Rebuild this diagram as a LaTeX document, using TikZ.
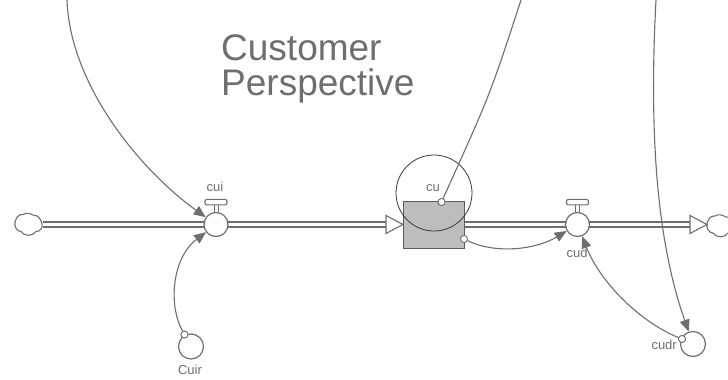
\documentclass[tikz,border=0pt]{standalone}
\usepackage{fontspec}
\setmainfont{Liberation Sans}
\usetikzlibrary{arrows.meta}
\definecolor{ink}{HTML}{6E6E6E}
\definecolor{stockfill}{HTML}{BDBDBD}
\definecolor{ring}{HTML}{3A3A3A}

\begin{document}
\begin{tikzpicture}[x=1pt,y=-1pt,
  pipe/.style={draw=ink, line width=1.3pt, double=white, double distance=3.6pt},
  valvebody/.style={circle, draw=ink, fill=white, line width=1.2pt, minimum size=24pt, inner sep=0pt},
  aux/.style={circle, draw=ink, fill=white, line width=1.2pt, minimum size=25pt, inner sep=0pt},
  dot/.style={circle, draw=ink, fill=white, line width=0.8pt, minimum size=7pt, inner sep=0pt},
  conn/.style={draw=ink, line width=1.1pt},
  link/.style={conn, -{Triangle[length=12pt,width=10pt]}},
  lbl/.style={text=ink, font=\fontsize{13}{15}\selectfont, inner sep=0pt},
  title/.style={text=ink, font=\fontsize{37}{37}\selectfont, inner sep=0pt, anchor=base west},
  cloudspot/.style={inner sep=0pt, minimum width=28pt, minimum height=21pt},
  headbox/.style={draw=ink, fill=white, line width=1.1pt},
  sinkcloud/.pic={
    \draw[draw=ink, fill=white, line width=1.1pt]
      (-8,8) to[out=-60,in=-120] (7,8)
      to[out=-10,in=-70] (13,0)
      to[out=110,in=10] (5,-8)
      to[out=150,in=30] (-6,-9)
      to[out=170,in=80] (-14,-1)
      to[out=-100,in=180] cycle;
  }
]
\useasboundingbox (0,0) rectangle (728,380);

% heading
\node[title] (t1) at (221,60) {Customer};
\node[title] (t2) at (221,95) {Perspective};

% sources and sinks
\node[cloudspot] (srcL) at (29,223.5) {};
\pic at (srcL) {sinkcloud};
\node[cloudspot] (sinkR) at (721,225) {};
\pic at (sinkR) {sinkcloud};

% stock
\node[draw=ink!85!black, fill=stockfill, line width=1pt, minimum width=61pt, minimum height=47pt,
  inner sep=0pt] (stock) at (433.5,225) {};

% pipes
\draw[pipe] (srcL.east |- 0,224.5) -- (204,224.5);
\draw[pipe] (228,224.5) -- (386,224.5);
\draw[headbox] (386,215.5) -- (403,224.5) -- (386,233.5) -- cycle;
\draw[pipe] (stock.east |- 0,224.5) -- (566,224.5);
\draw[pipe] (589,224.5) -- (690,224.5);
\draw[headbox] (690,215.5) -- (707,224.5) -- (690,233.5) -- cycle;

% valves
\node[valvebody] (cui) at (216,224.5) {};
\node[valvebody] (cud) at (577.5,224.5) {};
\foreach \v in {cui,cud}{
  \draw[ink, line width=1pt] ([xshift=-2pt]\v.north) -- ++(0,-7)
                             ([xshift=2pt]\v.north) -- ++(0,-7);
  \draw[headbox, rounded corners=2pt] ([xshift=-11pt,yshift=7pt]\v.north) rectangle ++(22,-5.5);
}

% auxiliaries
\node[aux] (cuir) at (191,346.5) {};
\node[aux] (cudr) at (693,344) {};

% ring round the stock
\node[circle, draw=ring, line width=0.8pt, minimum size=76pt, inner sep=0pt] (cuRing) at (434,193) {};

% labels
\node[lbl] (lcui) at (215,187) {cui};
\node[lbl] (lcu) at (433,188) {cu};
\node[lbl] (lcud) at (577,253) {cud};
\node[lbl] (lcuir) at (190,370) {Cuir};
\node[lbl, anchor=east] (lcudr) at (677,345) {cudr};

% free ends of the long links
\coordinate (topL) at (67,0);
\coordinate (topM) at (521,0);
\coordinate (topR) at (656,0);

% connector dots
\node[dot] (cudot) at (441.5,202) {};
\node[dot] (stockdot) at (464,239) {};
\node[dot] (cuirdot) at (184.5,334.5) {};
\node[dot] (cudrdot) at (682,339) {};

% links
\draw[link] (topL) .. controls (70,85) and (140,170) .. (cui);
\draw[conn] (cudot) .. controls (490,95) .. (topM);
\draw[link] (topR) .. controls (648,150) and (660,250) .. (cudr);
\draw[link] (cuirdot) .. controls (168,305) and (172,258) .. (cui);
\draw[link] (stockdot) .. controls (495,254) and (535,250) .. (cud);
\draw[link] (cudrdot) .. controls (640,322) and (600,282) .. (cud);

% redraw dots above the link ends
\node[dot] at (cudot) {};
\node[dot] at (stockdot) {};
\node[dot] at (cuirdot) {};
\node[dot] at (cudrdot) {};
\end{tikzpicture}
\end{document}
